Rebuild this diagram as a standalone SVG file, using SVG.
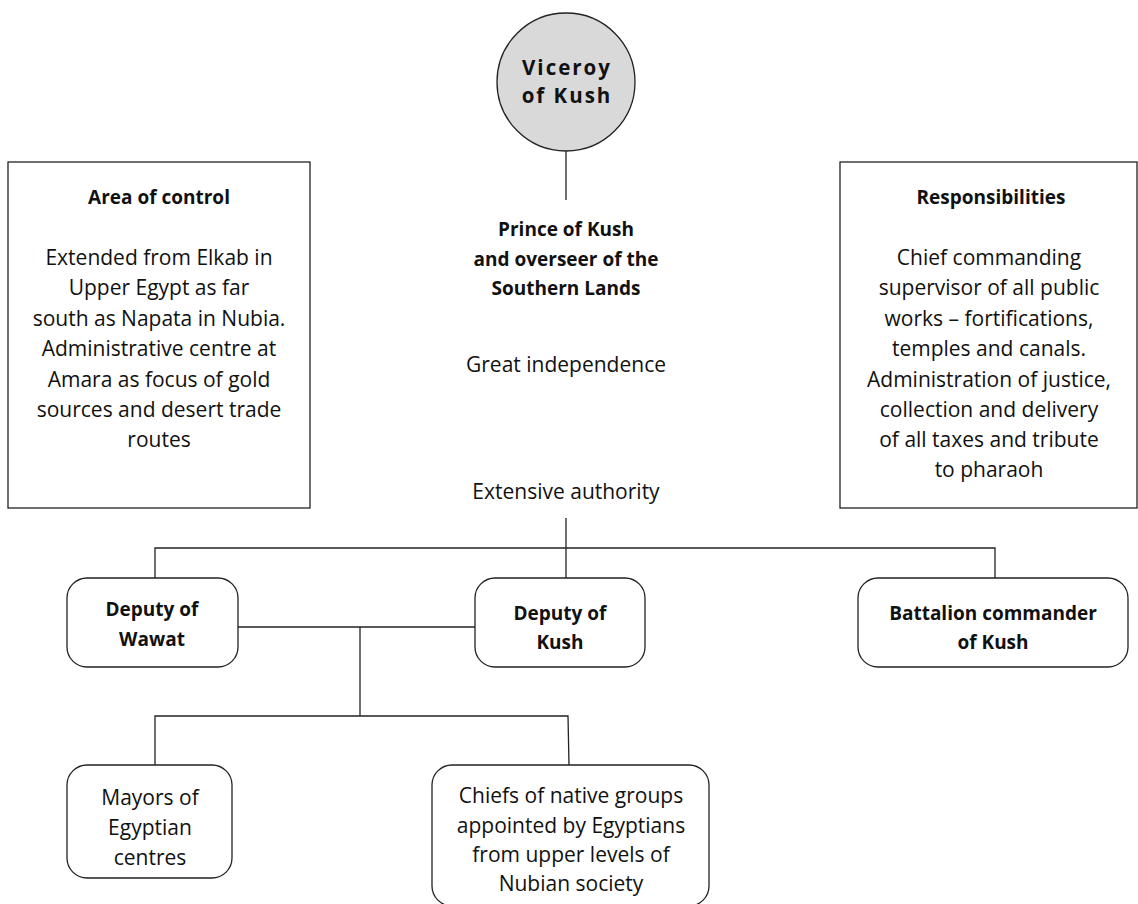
<svg xmlns="http://www.w3.org/2000/svg" width="1138" height="904" viewBox="0 0 1138 904">
<style>
text{font-family:"Open Sans","Noto Sans",sans-serif;fill:#111;text-anchor:middle}
.b{font-weight:bold;font-size:19px}
.r{font-size:21px}
.v{font-weight:bold;font-size:20.5px;letter-spacing:2px}
.box{fill:#fff;stroke:#222;stroke-width:1.3}
.ln{stroke:#222;stroke-width:1.3;fill:none}
</style>
<rect width="1138" height="904" fill="#fff"/>
<g id="connectors">
<line class="ln" x1="566" y1="151" x2="566" y2="200"/>
<line class="ln" x1="566" y1="518" x2="566" y2="578"/>
<polyline class="ln" points="155,578 155,548 995,548 995,578"/>
<line class="ln" x1="238" y1="627" x2="475" y2="627"/>
<line class="ln" x1="360" y1="627" x2="360" y2="716"/>
<polyline class="ln" points="155,765 155,716 568,716 569,765"/>
</g>
<g id="viceroy">
<circle cx="566" cy="82" r="69" fill="#d9d9d9" stroke="#222" stroke-width="1.3"/>
<text class="v" x="567" y="75">Viceroy</text>
<text class="v" x="567" y="103">of Kush</text>
</g>
<g id="area">
<rect class="box" x="8" y="162" width="302" height="346"/>
<text class="b" x="159" y="204">Area of control</text>
<text class="r" x="159" y="265">Extended from Elkab in</text>
<text class="r" x="159" y="295">Upper Egypt as far</text>
<text class="r" x="159" y="326">south as Napata in Nubia.</text>
<text class="r" x="159" y="356">Administrative centre at</text>
<text class="r" x="159" y="387">Amara as focus of gold</text>
<text class="r" x="159" y="417">sources and desert trade</text>
<text class="r" x="159" y="447">routes</text>
</g>
<g id="prince">
<text class="b" x="566" y="236">Prince of Kush</text>
<text class="b" x="566" y="266">and overseer of the</text>
<text class="b" x="566" y="295">Southern Lands</text>
</g>
<g id="independence"><text class="r" x="566" y="372">Great independence</text></g>
<g id="authority"><text class="r" x="566" y="499">Extensive authority</text></g>
<g id="resp">
<rect class="box" x="840" y="162" width="297" height="346"/>
<text class="b" x="991" y="204">Responsibilities</text>
<text class="r" x="989" y="265">Chief commanding</text>
<text class="r" x="989" y="295">supervisor of all public</text>
<text class="r" x="989" y="326">works – fortifications,</text>
<text class="r" x="989" y="356">temples and canals.</text>
<text class="r" x="989" y="387">Administration of justice,</text>
<text class="r" x="989" y="417">collection and delivery</text>
<text class="r" x="989" y="447">of all taxes and tribute</text>
<text class="r" x="989" y="477">to pharaoh</text>
</g>
<g id="wawat">
<rect class="box" x="67" y="578" width="171" height="89" rx="20"/>
<text class="b" x="152" y="616">Deputy of</text>
<text class="b" x="152" y="646">Wawat</text>
</g>
<g id="dkush">
<rect class="box" x="475" y="578" width="170" height="89" rx="20"/>
<text class="b" x="560" y="620">Deputy of</text>
<text class="b" x="560" y="649">Kush</text>
</g>
<g id="battalion">
<rect class="box" x="858" y="578" width="270" height="89" rx="20"/>
<text class="b" x="993" y="620">Battalion commander</text>
<text class="b" x="993" y="649">of Kush</text>
</g>
<g id="mayors">
<rect class="box" x="67" y="765" width="165" height="113" rx="20"/>
<text class="r" x="150" y="805">Mayors of</text>
<text class="r" x="150" y="835">Egyptian</text>
<text class="r" x="150" y="865">centres</text>
</g>
<g id="chiefs">
<rect class="box" x="432" y="765" width="277" height="141" rx="20"/>
<text class="r" x="571" y="803">Chiefs of native groups</text>
<text class="r" x="571" y="833">appointed by Egyptians</text>
<text class="r" x="571" y="862">from upper levels of</text>
<text class="r" x="571" y="891">Nubian society</text>
</g>
</svg>
